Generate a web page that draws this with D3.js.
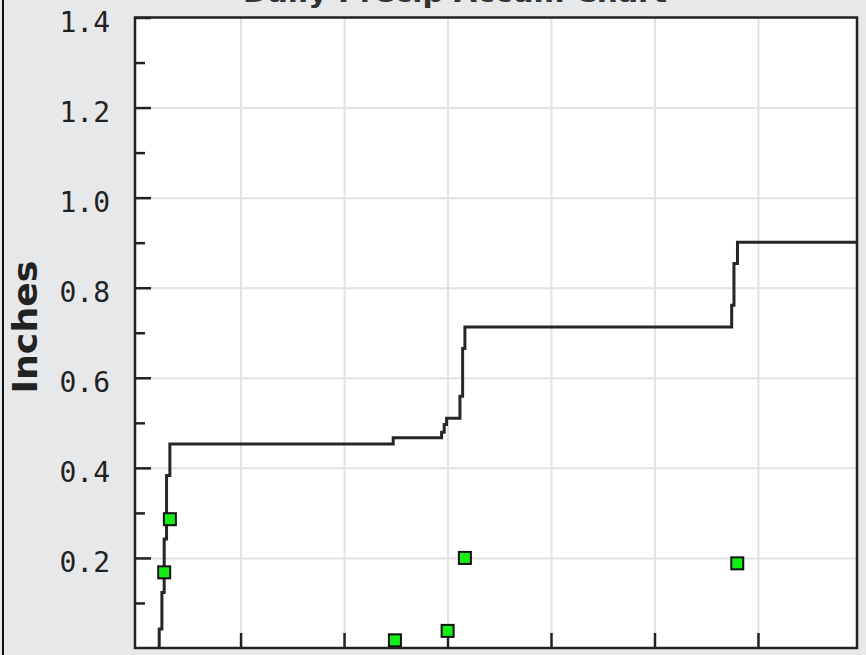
<!DOCTYPE html>
<html>
<head>
<meta charset="utf-8">
<script src="https://cdn.jsdelivr.net/npm/d3@7"></script>
<style>
  html, body { margin: 0; padding: 0; background: #e7e8ea; }
  svg { display: block; }
</style>
</head>
<body>
<div id="chart"></div>
<script>
// cumulative rain line (day, inches) - each point is when the total changed
const lineDays   = [0.214, 0.214, 0.240, 0.262, 0.285, 0.317, 2.475, 2.943, 2.968, 2.991, 3.120, 3.146, 3.168, 5.746, 5.768, 5.802, 6.957];
const lineInches = [0.000, 0.042, 0.123, 0.242, 0.383, 0.453, 0.467, 0.479, 0.496, 0.510, 0.559, 0.665, 0.713, 0.761, 0.854, 0.901, 0.901];

// single event amounts
const pointDays   = [0.262, 0.317, 2.492, 3.001, 3.168, 5.800];
const pointInches = [0.168, 0.286, 0.017, 0.038, 0.200, 0.188];

const yMajorTicks = [0.2, 0.4, 0.6, 0.8, 1.0, 1.2, 1.4];
const yMinorTicks = [0.1, 0.3, 0.5, 0.7, 0.9, 1.1, 1.3];
const xTicks = [1, 2, 3, 4, 5, 6];

const chartTitle = "Daily Precip Accum Chart";
const yTitle = "Inches";

let width = 866, height = 655;
let margin = {top: 17.5, right: 9, bottom: 7, left: 135};
let plotW = width - margin.left - margin.right;
let plotH = height - margin.top - margin.bottom;

let svg = d3.select("#chart").append("svg")
  .attr("width", width)
  .attr("height", height);

svg.append("rect")
  .attr("width", width).attr("height", height)
  .attr("fill", "#e7e8ea");

// outer frame, only the left side is in view
svg.append("line")
  .attr("x1", 3).attr("x2", 3).attr("y1", 0).attr("y2", height)
  .attr("stroke", "#111").attr("stroke-width", 2);

// title sits mostly above the visible area, as in the crop
svg.append("text")
  .attr("x", 455).attr("y", 1.5)
  .attr("text-anchor", "middle")
  .attr("textLength", 424)
  .attr("lengthAdjust", "spacingAndGlyphs")
  .style("font-family", "'DejaVu Sans'")
  .style("font-weight", "bold")
  .style("font-size", "26px")
  .attr("fill", "#333")
  .text(chartTitle);

let x = d3.scaleLinear().domain([-0.02, 6.957]).range([0, plotW]);
let y = d3.scaleLinear().domain([0, 1.4]).range([plotH, 0]);

let g = svg.append("g")
  .attr("transform", "translate(" + margin.left + "," + margin.top + ")");

g.append("rect")
  .attr("width", plotW).attr("height", plotH)
  .attr("fill", "#ffffff");

// grid
let gridY = g.append("g")
  .call(d3.axisLeft(y).tickValues(yMajorTicks.slice(0, -1)).tickSize(-plotW).tickFormat(""));
let gridX = g.append("g")
  .attr("transform", "translate(0," + plotH + ")")
  .call(d3.axisBottom(x).tickValues(xTicks).tickSize(-plotH).tickFormat(""));
[gridY, gridX].forEach(function(a) {
  a.select(".domain").remove();
  a.selectAll("line").attr("stroke", "#e2e2e2").attr("stroke-width", 2);
});

// accumulation line
let lineData = lineDays.map(function(d, i) { return [d, lineInches[i]]; });
let stepLine = d3.line()
  .x(function(d) { return x(d[0]); })
  .y(function(d) { return y(d[1]); })
  .curve(d3.curveStepAfter);

g.append("path")
  .datum(lineData)
  .attr("d", stepLine)
  .attr("fill", "none")
  .attr("stroke", "#262626")
  .attr("stroke-width", 3);

// axes
let yAxis = g.append("g")
  .call(d3.axisLeft(y).tickValues(yMajorTicks).tickSize(-16).tickPadding(25).tickFormat(d3.format(".1f")));
yAxis.select(".domain").remove();
yAxis.selectAll("line").attr("stroke", "#222").attr("stroke-width", 2.5);
yAxis.selectAll("text")
  .attr("dy", "0.5em")
  .attr("fill", "#222")
  .style("font-family", "'DejaVu Sans Mono'")
  .style("font-size", "28px");

let yMinor = g.append("g")
  .call(d3.axisLeft(y).tickValues(yMinorTicks).tickSize(-10).tickFormat(""));
yMinor.select(".domain").remove();
yMinor.selectAll("line").attr("stroke", "#222").attr("stroke-width", 2.5);

let xAxis = g.append("g")
  .attr("transform", "translate(0," + plotH + ")")
  .call(d3.axisBottom(x).tickValues(xTicks).tickSize(-15).tickFormat(""));
xAxis.select(".domain").remove();
xAxis.selectAll("line").attr("stroke", "#222").attr("stroke-width", 2.5);

// event points
let pointData = pointDays.map(function(d, i) { return [d, pointInches[i]]; });
g.selectAll("rect.pt").data(pointData).enter().append("rect")
  .attr("class", "pt")
  .attr("x", function(d) { return x(d[0]) - 6; })
  .attr("y", function(d) { return y(d[1]) - 6; })
  .attr("width", 12).attr("height", 12)
  .attr("fill", "#14ee14")
  .attr("stroke", "#111")
  .attr("stroke-width", 2);

// plot frame
g.append("rect")
  .attr("width", plotW).attr("height", plotH)
  .attr("fill", "none")
  .attr("stroke", "#222")
  .attr("stroke-width", 2.5);

svg.append("text")
  .attr("transform", "translate(37," + 327 + ") rotate(-90)")
  .attr("text-anchor", "middle")
  .attr("textLength", 133)
  .attr("lengthAdjust", "spacingAndGlyphs")
  .style("font-family", "'DejaVu Sans'")
  .style("font-weight", "bold")
  .style("font-size", "33px")
  .attr("fill", "#222")
  .text(yTitle);
</script>
</body>
</html>
